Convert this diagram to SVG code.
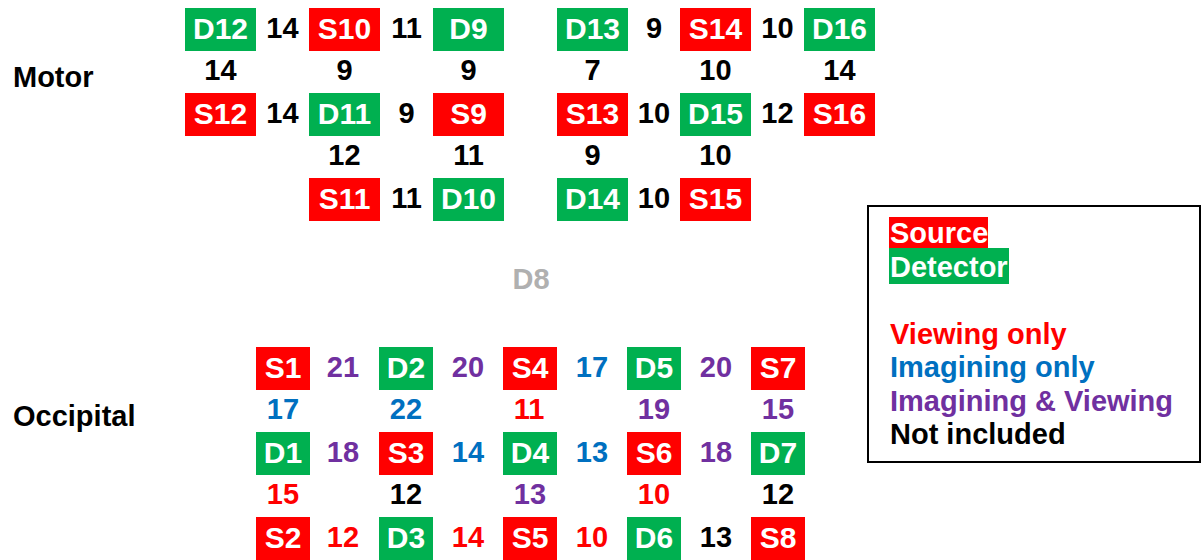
<svg xmlns="http://www.w3.org/2000/svg" width="1203" height="560" viewBox="0 0 1203 560">
<style>
text{font-family:"Liberation Sans",Arial,sans-serif;font-weight:bold;font-size:29px}
.n text{text-anchor:middle;fill:#fff;font-size:30px}
.s rect{fill:#FF0000}
.d rect{fill:#00B050}
.lbl text{text-anchor:middle}
.k{fill:#000}.r{fill:#FF0000}.b{fill:#0070C0}.p{fill:#7030A0}
</style>
<rect width="1203" height="560" fill="#fff"/>
<text x="13" y="87">Motor</text>
<text x="13" y="426">Occipital</text>
<text x="531" y="289" fill="#B0B0B0" text-anchor="middle">D8</text>

<g id="motor-nodes">
<g id="D12" class="n d"><rect x="185" y="8" width="71" height="43"/><text x="220.5" y="38.5">D12</text></g>
<g id="S10" class="n s"><rect x="309" y="8" width="71" height="43"/><text x="344.5" y="38.5">S10</text></g>
<g id="D9" class="n d"><rect x="433" y="8" width="71" height="43"/><text x="468.5" y="38.5">D9</text></g>
<g id="S12" class="n s"><rect x="185" y="93" width="71" height="43"/><text x="220.5" y="123.5">S12</text></g>
<g id="D11" class="n d"><rect x="309" y="93" width="71" height="43"/><text x="344.5" y="123.5">D11</text></g>
<g id="S9" class="n s"><rect x="433" y="93" width="71" height="43"/><text x="468.5" y="123.5">S9</text></g>
<g id="S11" class="n s"><rect x="309" y="178" width="71" height="43"/><text x="344.5" y="208.5">S11</text></g>
<g id="D10" class="n d"><rect x="433" y="178" width="71" height="43"/><text x="468.5" y="208.5">D10</text></g>
<g id="D13" class="n d"><rect x="557" y="8" width="71" height="43"/><text x="592.5" y="38.5">D13</text></g>
<g id="S14" class="n s"><rect x="680" y="8" width="71" height="43"/><text x="715.5" y="38.5">S14</text></g>
<g id="D16" class="n d"><rect x="804" y="8" width="71" height="43"/><text x="839.5" y="38.5">D16</text></g>
<g id="S13" class="n s"><rect x="557" y="93" width="71" height="43"/><text x="592.5" y="123.5">S13</text></g>
<g id="D15" class="n d"><rect x="680" y="93" width="71" height="43"/><text x="715.5" y="123.5">D15</text></g>
<g id="S16" class="n s"><rect x="804" y="93" width="71" height="43"/><text x="839.5" y="123.5">S16</text></g>
<g id="D14" class="n d"><rect x="557" y="178" width="71" height="43"/><text x="592.5" y="208.5">D14</text></g>
<g id="S15" class="n s"><rect x="680" y="178" width="71" height="43"/><text x="715.5" y="208.5">S15</text></g>
</g>

<g id="occipital-nodes">
<g id="S1" class="n s"><rect x="256" y="347" width="54" height="43"/><text x="283" y="377.5">S1</text></g>
<g id="D2" class="n d"><rect x="379" y="347" width="54" height="43"/><text x="406" y="377.5">D2</text></g>
<g id="S4" class="n s"><rect x="503" y="347" width="54" height="43"/><text x="530" y="377.5">S4</text></g>
<g id="D5" class="n d"><rect x="627" y="347" width="54" height="43"/><text x="654" y="377.5">D5</text></g>
<g id="S7" class="n s"><rect x="751" y="347" width="54" height="43"/><text x="778" y="377.5">S7</text></g>
<g id="D1" class="n d"><rect x="256" y="432" width="54" height="43"/><text x="283" y="462.5">D1</text></g>
<g id="S3" class="n s"><rect x="379" y="432" width="54" height="43"/><text x="406" y="462.5">S3</text></g>
<g id="D4" class="n d"><rect x="503" y="432" width="54" height="43"/><text x="530" y="462.5">D4</text></g>
<g id="S6" class="n s"><rect x="627" y="432" width="54" height="43"/><text x="654" y="462.5">S6</text></g>
<g id="D7" class="n d"><rect x="751" y="432" width="54" height="43"/><text x="778" y="462.5">D7</text></g>
<g id="S2" class="n s"><rect x="256" y="517" width="54" height="43"/><text x="283" y="547.5">S2</text></g>
<g id="D3" class="n d"><rect x="379" y="517" width="54" height="43"/><text x="406" y="547.5">D3</text></g>
<g id="S5" class="n s"><rect x="503" y="517" width="54" height="43"/><text x="530" y="547.5">S5</text></g>
<g id="D6" class="n d"><rect x="627" y="517" width="54" height="43"/><text x="654" y="547.5">D6</text></g>
<g id="S8" class="n s"><rect x="751" y="517" width="54" height="43"/><text x="778" y="547.5">S8</text></g>
</g>

<g id="connectors" class="lbl">
<text class="k" x="282.5" y="38">14</text><text class="k" x="406.5" y="38">11</text>
<text class="k" x="220.5" y="80">14</text><text class="k" x="344.5" y="80">9</text><text class="k" x="468.5" y="80">9</text>
<text class="k" x="282.5" y="123">14</text><text class="k" x="406.5" y="123">9</text>
<text class="k" x="344.5" y="165">12</text><text class="k" x="468.5" y="165">11</text>
<text class="k" x="406.5" y="208">11</text>
<text class="k" x="654" y="38">9</text><text class="k" x="777.5" y="38">10</text>
<text class="k" x="592.5" y="80">7</text><text class="k" x="715.5" y="80">10</text><text class="k" x="839.5" y="80">14</text>
<text class="k" x="654" y="123">10</text><text class="k" x="777.5" y="123">12</text>
<text class="k" x="592.5" y="165">9</text><text class="k" x="715.5" y="165">10</text>
<text class="k" x="654" y="208">10</text>

<text class="p" x="343" y="377">21</text><text class="p" x="468" y="377">20</text><text class="b" x="592" y="377">17</text><text class="p" x="716" y="377">20</text>
<text class="b" x="283" y="419">17</text><text class="b" x="406" y="419">22</text><text class="r" x="529" y="419">11</text><text class="p" x="654" y="419">19</text><text class="p" x="778" y="419">15</text>
<text class="p" x="343" y="462">18</text><text class="b" x="468" y="462">14</text><text class="b" x="592" y="462">13</text><text class="p" x="716" y="462">18</text>
<text class="r" x="283" y="504">15</text><text class="k" x="406" y="504">12</text><text class="p" x="530" y="504">13</text><text class="r" x="654" y="504">10</text><text class="k" x="778" y="504">12</text>
<text class="r" x="343" y="547">12</text><text class="r" x="468" y="547">14</text><text class="r" x="592" y="547">10</text><text class="k" x="716" y="547">13</text>
</g>

<g id="legend">
<rect x="868" y="206" width="332" height="256" fill="#fff" stroke="#000" stroke-width="2"/>
<rect x="889" y="217" width="99" height="31" fill="#FF0000"/>
<rect x="889" y="248" width="120" height="36" fill="#00B050"/>
<text x="890" y="243" fill="#fff">Source</text>
<text x="890" y="276.5" fill="#fff">Detector</text>
<text x="890" y="343.5" class="r">Viewing only</text>
<text x="890" y="377" class="b">Imagining only</text>
<text x="890" y="410.5" class="p">Imagining &amp; Viewing</text>
<text x="890" y="444" class="k">Not included</text>
</g>
</svg>
